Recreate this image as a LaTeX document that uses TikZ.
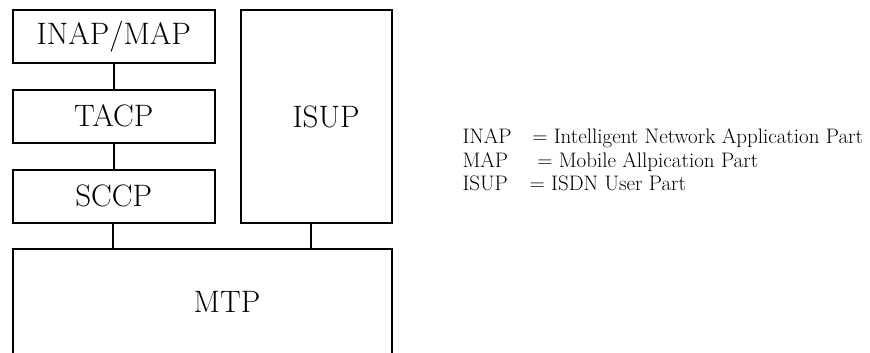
\documentclass[tikz,border=0pt]{standalone}
\usepackage{xcolor}
\usepackage{tikz}
\usetikzlibrary{positioning}
\definecolor{ink}{RGB}{0,0,0}
\tikzset{
  layer/.style={
    draw=ink, line width=1.5pt, anchor=north west,
    minimum width=202pt, minimum height=53pt,
    font=\fontsize{31}{36}\selectfont, inner sep=0pt,
  },
  lbl/.style={font=\fontsize{31}{36}\selectfont, inner sep=0pt},
  link/.style={draw=ink, line width=1.5pt},
  legend/.style={
    anchor=north west, inner sep=0pt, align=left,
    font=\fontsize{21}{23.5}\selectfont,
  },
}

\begin{document}
\begin{tikzpicture}[x=1pt,y=-1pt]
  \useasboundingbox (0,0) rectangle (870,353);
  \clip (0,0) rectangle (870,353);

  % SS7 stack, left column
  \node[layer] (inap) at (12,9.5) {INAP/MAP};
  \node[layer] (tacp) at (12,89) {TACP};
  \node[layer] (sccp) at (12,169) {SCCP};

  % ISUP and MTP
  \node[layer, minimum width=151pt, minimum height=212.5pt] (isup) at (240,9.5) {};
  \node[lbl] (isupt) at (326,117) {ISUP};
  \node[layer, minimum width=379pt, minimum height=140pt] (mtp) at (12,248.3) {};
  \node[lbl] (mtpt) at (227,302) {MTP};

  \coordinate (sccpm) at (113,222);
  \coordinate (isupm) at (311,222);
  \draw[link] (inap) -- (tacp) -- (sccp);
  \draw[link] (sccpm) -- (sccpm |- mtp.north);
  \draw[link] (isupm) -- (isupm |- mtp.north);

  % abbreviations
  \node[legend] (abbr) at (462.3,126.9) {%
    \begin{tabular}{@{}l@{\hspace{18pt}}l@{}}
      INAP & \hspace{2.7pt}= Intelligent Network Application Part\\
      MAP  & \hspace{7.7pt}= Mobile Allpication Part\\
      ISUP & = ISDN User Part
    \end{tabular}};
\end{tikzpicture}
\end{document}
